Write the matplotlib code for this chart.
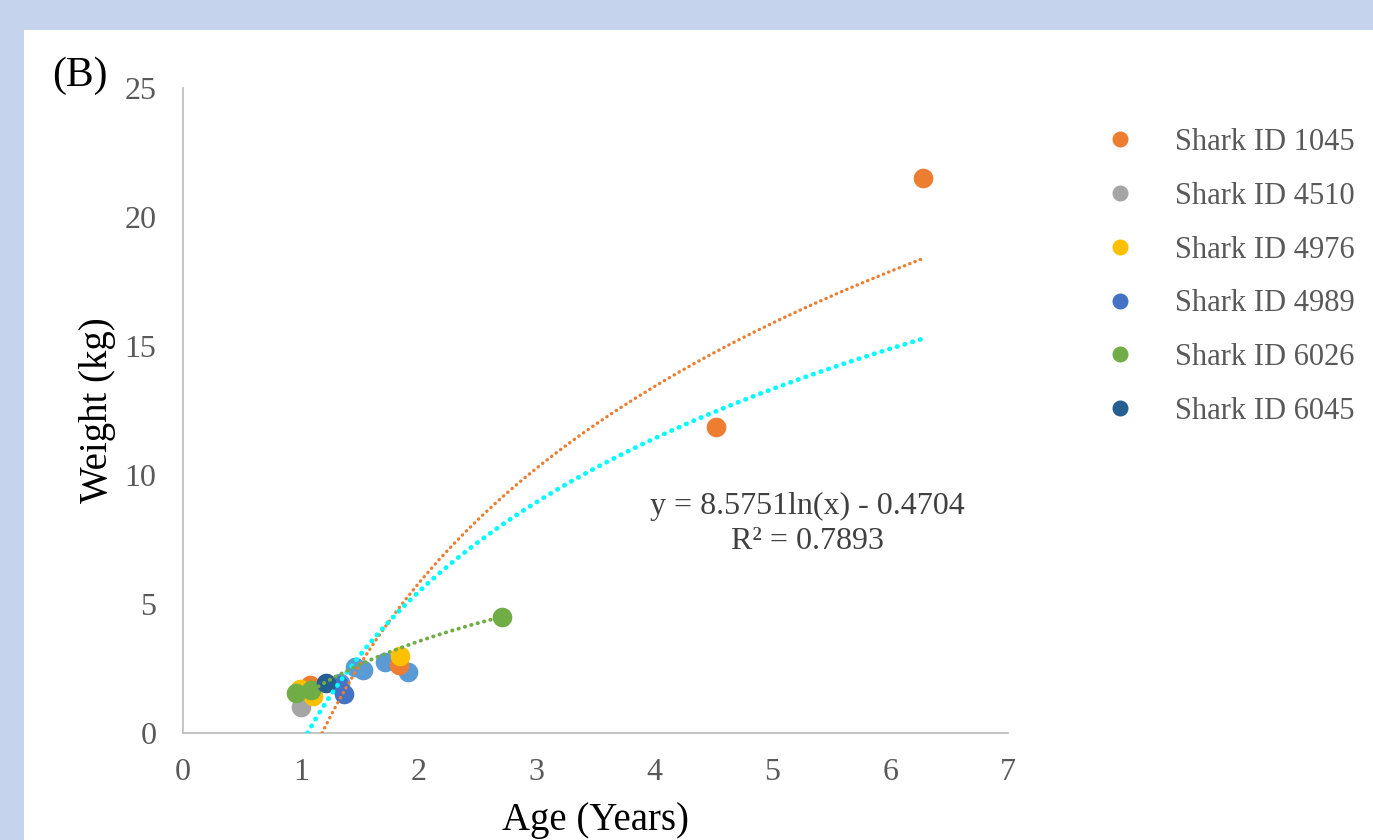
import matplotlib.pyplot as plt
from matplotlib.patches import Rectangle
from matplotlib.lines import Line2D
import numpy as np

plt.rcParams['font.family'] = ['Liberation Serif', 'DejaVu Serif']

# series without legend entry (light blue)
extra_x = [1.33, 1.46, 1.53, 1.71, 1.91]
extra_y = [1.94, 2.57, 2.44, 2.76, 2.38]

s1045_x = [1.08, 1.83, 4.52, 6.28]
s1045_y = [1.85, 2.62, 11.85, 21.5]
s4510_x = [1.00]
s4510_y = [1.02]
s4976_x = [0.99, 1.10, 1.84]
s4976_y = [1.72, 1.45, 3.00]
s4989_x = [1.32, 1.37]
s4989_y = [1.85, 1.52]
s6026_x = [0.96, 1.09, 2.71]
s6026_y = [1.54, 1.67, 4.50]
s6045_x = [1.21]
s6045_y = [1.95]

# log trendlines y = a*ln(x) + b, drawn between x_start and x_end
trend_cyan = (8.5751, -0.4704, 1.056, 6.28)
trend_orange = (11.0, -1.82, 1.18, 6.28)
trend_green = (3.15, 1.37, 0.96, 2.71)

x_ticks = [0, 1, 2, 3, 4, 5, 6, 7]
y_ticks = [0, 5, 10, 15, 20, 25]

fig = plt.figure(figsize=(13.73, 8.4), dpi=100)
fig.patch.set_facecolor('#c5d4ec')
fig.patches.append(Rectangle((24/1373, 0), 1, (840-30)/840, transform=fig.transFigure,
                             facecolor='white', edgecolor='none', zorder=-10))

ax = fig.add_axes([183/1373, 107/840, 825/1373, 645/840])
ax.set_facecolor('none')

ms = 200
ax.scatter(extra_x, extra_y, s=ms, color='#5b9bd5', zorder=2, linewidths=0)
series = [
    ('Shark ID 1045', s1045_x, s1045_y, '#ed7d31'),
    ('Shark ID 4510', s4510_x, s4510_y, '#a5a5a5'),
    ('Shark ID 4976', s4976_x, s4976_y, '#ffc000'),
    ('Shark ID 4989', s4989_x, s4989_y, '#4472c4'),
    ('Shark ID 6026', s6026_x, s6026_y, '#70ad47'),
    ('Shark ID 6045', s6045_x, s6045_y, '#255e91'),
]
handles = []
for name, xs, ys, c in series:
    ax.scatter(xs, ys, s=ms, color=c, zorder=2, linewidths=0)
    handles.append(Line2D([], [], marker='o', linestyle='none', color=c,
                          markersize=10.5, label=name))

def draw_trend(tr, color, lw):
    a, b, x0, x1 = tr
    xx = np.linspace(x0, x1, 300)
    yy = a*np.log(xx) + b
    ax.plot(xx, yy, color=color, lw=lw, linestyle=(0, (0.1, 1.6)),
            dash_capstyle='round', zorder=3, clip_on=True)

draw_trend(trend_orange, '#ed7d31', 2.4)
draw_trend(trend_cyan, '#00ffff', 3.4)
draw_trend(trend_green, '#70ad47', 2.8)

ax.text(5.30, 8.1, 'y = 8.5751ln(x) - 0.4704\nR² = 0.7893', ha='center', va='center',
        fontsize=23, color='#404040', linespacing=1.3)

ax.set_xlim(0, 7)
ax.set_ylim(0, 25)
ax.set_xticks(x_ticks)
ax.set_yticks(y_ticks)
ax.tick_params(length=0, labelsize=23, labelcolor='#595959')
ax.tick_params(axis='y', pad=19)
ax.tick_params(axis='x', pad=18)
for sp in ['top', 'right']:
    ax.spines[sp].set_visible(False)
for sp in ['left', 'bottom']:
    ax.spines[sp].set_color('#bfbfbf')
    ax.spines[sp].set_linewidth(1.3)

ax.set_xlabel('Age (Years)', fontsize=28, labelpad=11)
ax.set_ylabel('Weight (kg)', fontsize=28, labelpad=6)

fig.text(52/1373, 1 - 76/840, '(B)', fontsize=30, va='center', ha='left')

fig.legend(handles=handles, loc='upper left', bbox_to_anchor=(1105/1373, 1 - 128/840),
           frameon=False, fontsize=22, labelcolor='#595959', handlelength=1.0,
           handletextpad=1.29, labelspacing=0.81, borderpad=0, borderaxespad=0)

fig.savefig('out.png', dpi=100, facecolor=fig.get_facecolor())
